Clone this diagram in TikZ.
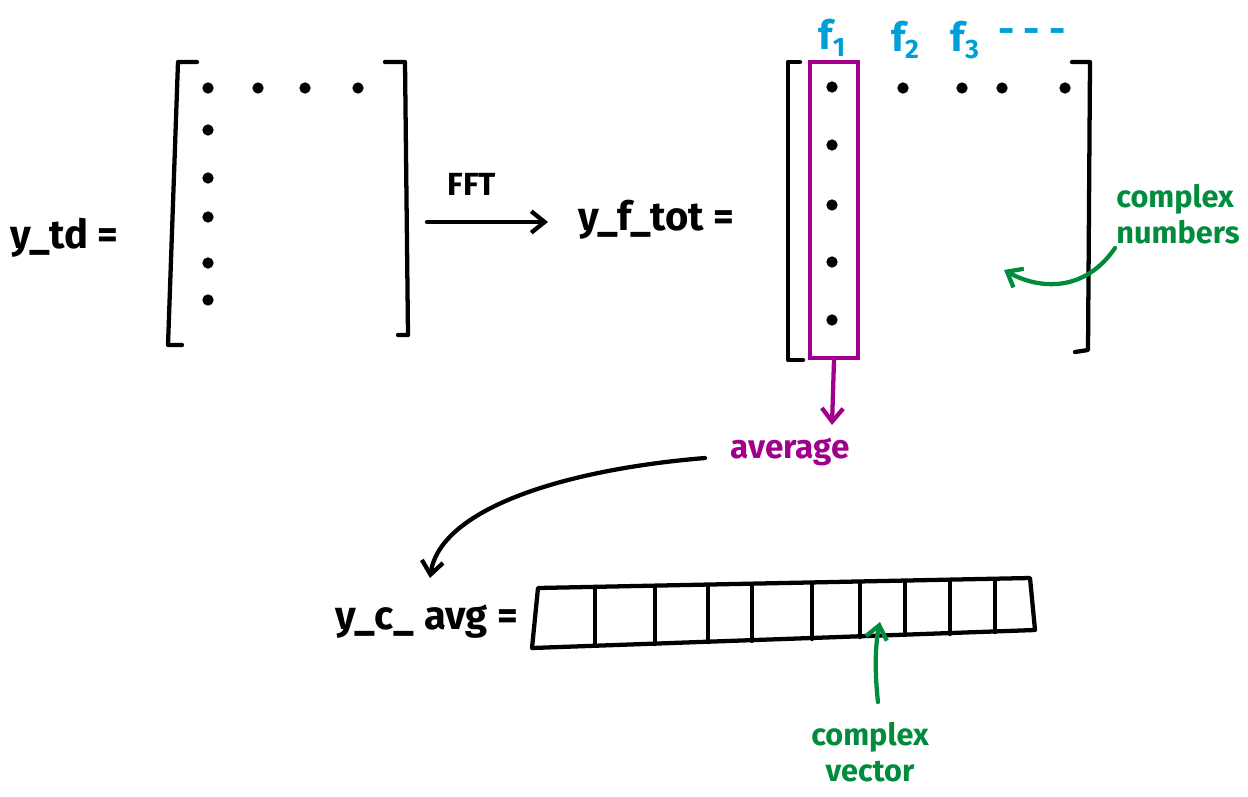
\documentclass[tikz,border=0pt]{standalone}
\usepackage{fontspec}
\setmainfont{Fira Sans}
\usetikzlibrary{arrows.meta}
\definecolor{mag}{RGB}{160,0,140}
\definecolor{grn}{RGB}{0,140,60}
\definecolor{cyn}{RGB}{0,160,215}
\newcommand{\fsub}[1]{\raisebox{-5pt}{\fontsize{20}{20}\selectfont #1}}
\begin{document}
\begin{tikzpicture}[x=0.75pt,y=-0.75pt,
  ink/.style={line width=3.2pt,line cap=round,line join=round},
  dot/.style={circle,fill=black,inner sep=0pt,minimum size=8.5pt},
  lbl/.style={font=\fontsize{30}{32}\selectfont\bfseries,inner sep=0pt},
  glbl/.style={font=\fontsize{23}{27}\selectfont\bfseries,inner sep=0pt,text=grn,align=left},
  flbl/.style={font=\fontsize{30}{32}\selectfont\bfseries,text=cyn,inner sep=0pt},
  arr/.style={ink,-{Straight Barb[length=10pt,width=16pt]}}]
\useasboundingbox (0,0) rectangle (1248,796);
% left side
\node[lbl,anchor=west] (ytd) at (10,238) {y\_td =};
\draw[ink] (197,62) -- (178,62) -- (168,345) -- (182,345);
\draw[ink] (385,62) -- (405,62) -- (408,335) -- (398,335);
\foreach \x in {208,258,305,358} \node[dot] at (\x,88) {};
\foreach \y in {130,178,217,263,300} \node[dot] at (208,\y) {};
% FFT
\coordinate (fa) at (427,222);
\coordinate (fb) at (548,222);
\draw[arr] (fa) -- (fb);
\node[font=\fontsize{24}{26}\selectfont\bfseries] (fft) at (472,184) {FFT};
% right side
\node[lbl,anchor=west] (yft) at (578,220) {y\_f\_tot =};
\draw[ink] (800,62) -- (788,62) -- (788,360) -- (803,360);
\draw[ink] (1072,62) -- (1090,62) -- (1088,350) -- (1075,352);
\node[draw=mag,line width=3.2pt,minimum width=36pt,minimum height=222pt,inner sep=0pt] (col) at (834,210) {};
\foreach \y in {87,145,205,262,320} \node[dot] at (832,\y) {};
\foreach \x in {903,962,1002,1065} \node[dot] at (\x,88) {};
\node[flbl] (f1) at (832,38) {f\fsub{1}};
\node[flbl] (f2) at (905,40) {f\fsub{2}};
\node[flbl] (f3) at (965,40) {f\fsub{3}};
\node[flbl] (fd) at (1032,36) {- - -};
% average
\node[font=\fontsize{25}{26}\selectfont\bfseries,text=mag,inner sep=2pt] (avg) at (790,452) {average};
\draw[ink,mag,-{Straight Barb[length=10pt,width=16pt]}] (col.south) -- (832,425);
\coordinate (cstart) at (705,458);
\coordinate (cend) at (430,578);
\draw[arr] (cstart) .. controls (560,470) and (440,510) .. (cend);
% complex numbers
\node[glbl] (cn) at (1178,214) {complex\\numbers};
\coordinate (cnA) at (1115,248);
\coordinate (cnB) at (1004,270);
\draw[ink,grn,-{Straight Barb[length=10pt,width=16pt]}] (cnA) .. controls (1085,292) and (1040,290) .. (cnB);
% vector
\node[lbl,anchor=west] (yca) at (335,622) {y\_c\_ avg =};
\draw[ink] (538,588) -- (1030,578) -- (1035,630) -- (532,648) -- cycle;
\foreach \x/\a/\b in {595/587/646,655/586/644,708/585/642,752/584/641,812/583/639,860/582/637,905/581/635,950/580/634,995/579/632}
  \draw[ink] (\x,\a) -- (\x,\b);
% complex vector
\node[glbl,align=center] (cv) at (870,752) {complex\\vector};
\coordinate (cvA) at (878,702);
\coordinate (cvB) at (880,622);
\draw[ink,grn,-{Straight Barb[length=10pt,width=16pt]}] (cvA) .. controls (874,667) and (876,640) .. (cvB);
\end{tikzpicture}
\end{document}
